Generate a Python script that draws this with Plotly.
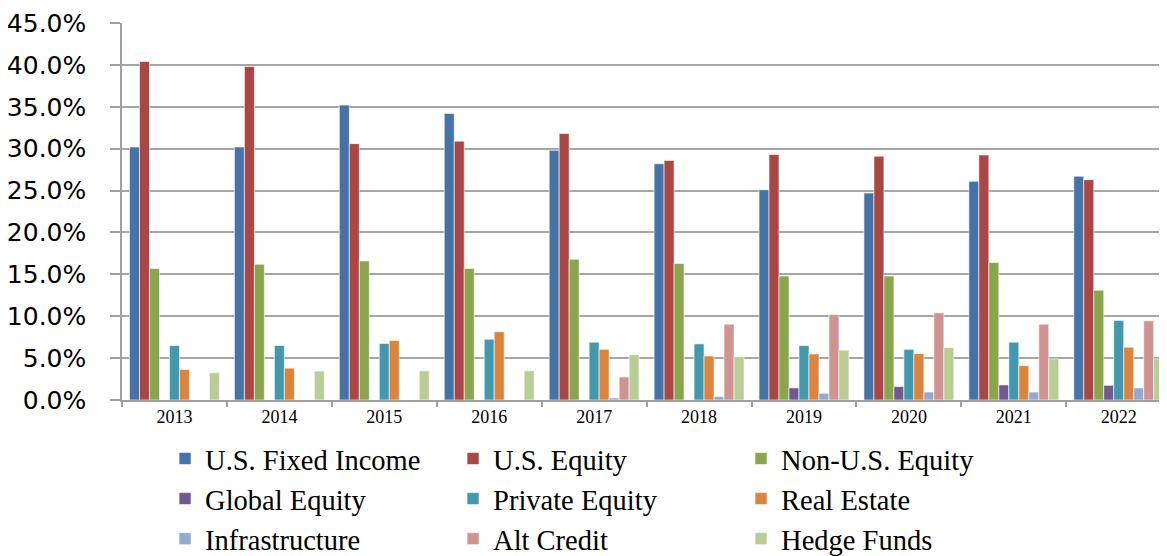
import plotly.graph_objects as go

years = ["2013", "2014", "2015", "2016", "2017", "2018", "2019", "2020", "2021", "2022"]

us_fixed_income = [30.2, 30.2, 35.2, 34.2, 29.8, 28.2, 25.1, 24.7, 26.1, 26.7]
us_equity       = [40.4, 39.8, 30.6, 30.9, 31.8, 28.6, 29.3, 29.1, 29.25, 26.3]
non_us_equity   = [15.7, 16.2, 16.6, 15.7, 16.8, 16.3, 14.8, 14.8, 16.4, 13.1]
global_equity   = [0, 0, 0, 0, 0, 0, 1.45, 1.6, 1.8, 1.75]
private_equity  = [6.5, 6.5, 6.75, 7.25, 6.9, 6.7, 6.5, 6.05, 6.9, 9.5]
real_estate     = [3.65, 3.8, 7.1, 8.15, 6.05, 5.25, 5.5, 5.55, 4.1, 6.3]
infrastructure  = [0, 0, 0, 0, 0.25, 0.4, 0.8, 0.95, 0.95, 1.45]
alt_credit      = [0, 0, 0, 0, 2.75, 9.05, 10.2, 10.4, 9.05, 9.45]
hedge_funds     = [3.25, 3.45, 3.5, 3.5, 5.4, 5.15, 5.95, 6.25, 4.9, 4.9]

series_names = ["U.S. Fixed Income", "U.S. Equity", "Non-U.S. Equity",
                "Global Equity", "Private Equity", "Real Estate",
                "Infrastructure", "Alt Credit", "Hedge Funds"]
series_values = [us_fixed_income, us_equity, non_us_equity,
                 global_equity, private_equity, real_estate,
                 infrastructure, alt_credit, hedge_funds]
colors = ["#4572A7", "#AA4643", "#89A54E", "#71588F", "#4198AF",
          "#DB843D", "#93A9CF", "#D19392", "#B9CD96"]

y_tick_vals = [0, 5, 10, 15, 20, 25, 30, 35, 40, 45]

fig = go.Figure()
for name, vals, col in zip(series_names, series_values, colors):
    fig.add_trace(go.Bar(
        name=name,
        x=years,
        y=[v / 100 for v in vals],
        marker=dict(color=col, line=dict(color="rgba(255,255,255,0.6)", width=1)),
    ))

# page body has an 8px default margin, so the figure is sized to fill the rest
fig.update_layout(
    width=1159,
    height=548,
    barmode="group",
    bargap=0.143,
    bargroupgap=0,
    plot_bgcolor="white",
    paper_bgcolor="white",
    margin=dict(l=114, r=0, t=15, b=156),
    legend=dict(
        orientation="h",
        xref="container",
        yref="container",
        x=0.1355,
        xanchor="left",
        y=0.2235,
        yanchor="top",
        entrywidth=243,
        entrywidthmode="pixels",
        font=dict(family="Liberation Serif", size=28.5, color="#000000"),
        traceorder="normal",
        itemclick=False,
        tracegroupgap=0,
        bgcolor="rgba(0,0,0,0)",
    ),
    xaxis=dict(
        type="category",
        range=[-0.5, 9.46],
        showline=True,
        linecolor="#A0A0A0",
        linewidth=1.5,
        ticks="outside",
        tickson="boundaries",
        ticklen=5,
        tickcolor="#A0A0A0",
        tickwidth=1.5,
        tickfont=dict(family="Liberation Serif", size=18, color="#000000"),
        showgrid=False,
        automargin=False,
    ),
    yaxis=dict(
        range=[0, 0.45],
        tickvals=[v / 100 for v in y_tick_vals],
        tickformat=".1%",
        showline=True,
        linecolor="#A0A0A0",
        linewidth=1.5,
        ticks="outside",
        ticklen=10,
        tickcolor="#A0A0A0",
        tickwidth=1.5,
        ticklabelstandoff=19,
        showgrid=True,
        gridcolor="#A6A6A6",
        gridwidth=1.5,
        zeroline=False,
        automargin=False,
        tickfont=dict(family="DejaVu Sans", size=25, color="#000000"),
    ),
)

fig.write_html("out.html")
